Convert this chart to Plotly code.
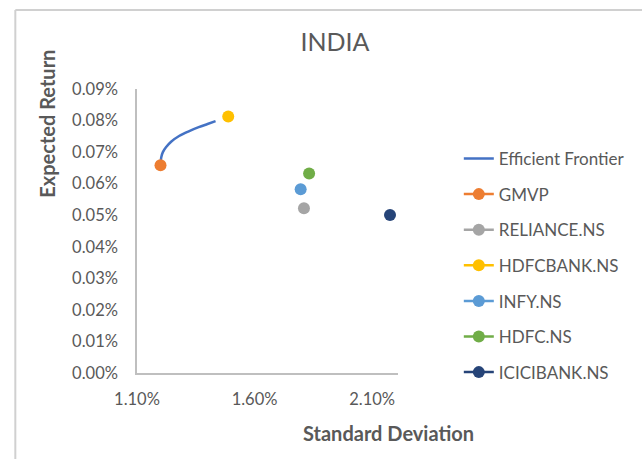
import plotly.graph_objects as go

# Efficient frontier (std dev, expected return)
frontier_std = [0.01200, 0.01203, 0.01210, 0.01224, 0.01245, 0.01279, 0.01320, 0.013625, 0.01400, 0.01434]
frontier_ret = [0.000660, 0.000683, 0.000700, 0.000716, 0.000733, 0.000751, 0.000766, 0.000779, 0.000789, 0.000798]

names = ["GMVP", "RELIANCE.NS", "HDFCBANK.NS", "INFY.NS", "HDFC.NS", "ICICIBANK.NS"]
point_std = [0.01200, 0.01810, 0.01488, 0.01796, 0.01832, 0.02176]
point_ret = [0.000658, 0.000522, 0.000813, 0.000582, 0.000632, 0.000501]
colors = ["#ED7D31", "#A5A5A5", "#FFC000", "#5B9BD5", "#70AD47", "#264478"]

FONT = "Lato, Carlito, Calibri, sans-serif"
GRAY = "#595959"

fig = go.Figure()
fig.add_trace(go.Scatter(
    x=frontier_std, y=frontier_ret, mode="lines", name="Efficient Frontier",
    line=dict(color="#4472C4", width=2.5, shape="spline"), legendgroup="ef"))
for n, sx, ry, c in zip(names, point_std, point_ret, colors):
    fig.add_trace(go.Scatter(
        x=[sx], y=[ry], mode="lines+markers", name=n, legendgroup=n,
        marker=dict(color=c, size=12), line=dict(color=c, width=2.5)))

fig.update_layout(
    width=642, height=459,
    margin=dict(l=137, r=239, t=89, b=86),
    paper_bgcolor="white", plot_bgcolor="white",
    font=dict(family=FONT, color=GRAY, size=16),
    title=dict(text="INDIA", x=335/642, y=1-42/459, xanchor="center", yanchor="middle",
               xref="container", yref="container",
               font=dict(size=25, color=GRAY, family=FONT)),
    showlegend=True,
    legend=dict(x=1.233, y=0.817, xanchor="left", yanchor="top",
                tracegroupgap=10.5, font=dict(size=17, color=GRAY, family=FONT),
                bgcolor="rgba(0,0,0,0)"),
    xaxis=dict(range=[0.011, 0.0221], dtick=0.005, tick0=0.011, tickformat=".2%",
               showgrid=False, zeroline=False, showline=True, linecolor="#BFBFBF",
               linewidth=1.5, ticks="", ticklabelstandoff=10,
               tickfont=dict(size=16.5, color=GRAY, family=FONT)),
    yaxis=dict(range=[0, 0.0009], dtick=0.0001, tickformat=".2%",
               showgrid=False, zeroline=False, showline=True, linecolor="#BFBFBF",
               linewidth=1.5, ticks="", ticklabelstandoff=14,
               tickfont=dict(size=16.5, color=GRAY, family=FONT)),
    annotations=[
        dict(text="<b>Expected Return</b>", x=(45-137)/266, y=(373-124)/284,
             xref="paper", yref="paper", textangle=-90, showarrow=False,
             xanchor="center", yanchor="middle", font=dict(size=20, color=GRAY, family=FONT)),
        dict(text="<b>Standard Deviation</b>", x=(393-137)/266, y=(373-433)/284,
             xref="paper", yref="paper", showarrow=False,
             xanchor="center", yanchor="middle", font=dict(size=20, color=GRAY, family=FONT)),
    ],
    shapes=[
        dict(type="line", xref="paper", yref="paper",
             x0=(13-137)/266, x1=(13-137)/266, y0=(373-10)/284, y1=(373-470)/284,
             line=dict(color="#D0D0D0", width=2)),
        dict(type="line", xref="paper", yref="paper",
             x0=(13-137)/266, x1=(660-137)/266, y0=(373-10)/284, y1=(373-10)/284,
             line=dict(color="#D0D0D0", width=2)),
    ],
)

fig.write_html("out.html", config={"displayModeBar": False},
               post_script="document.body.style.margin='0';")
